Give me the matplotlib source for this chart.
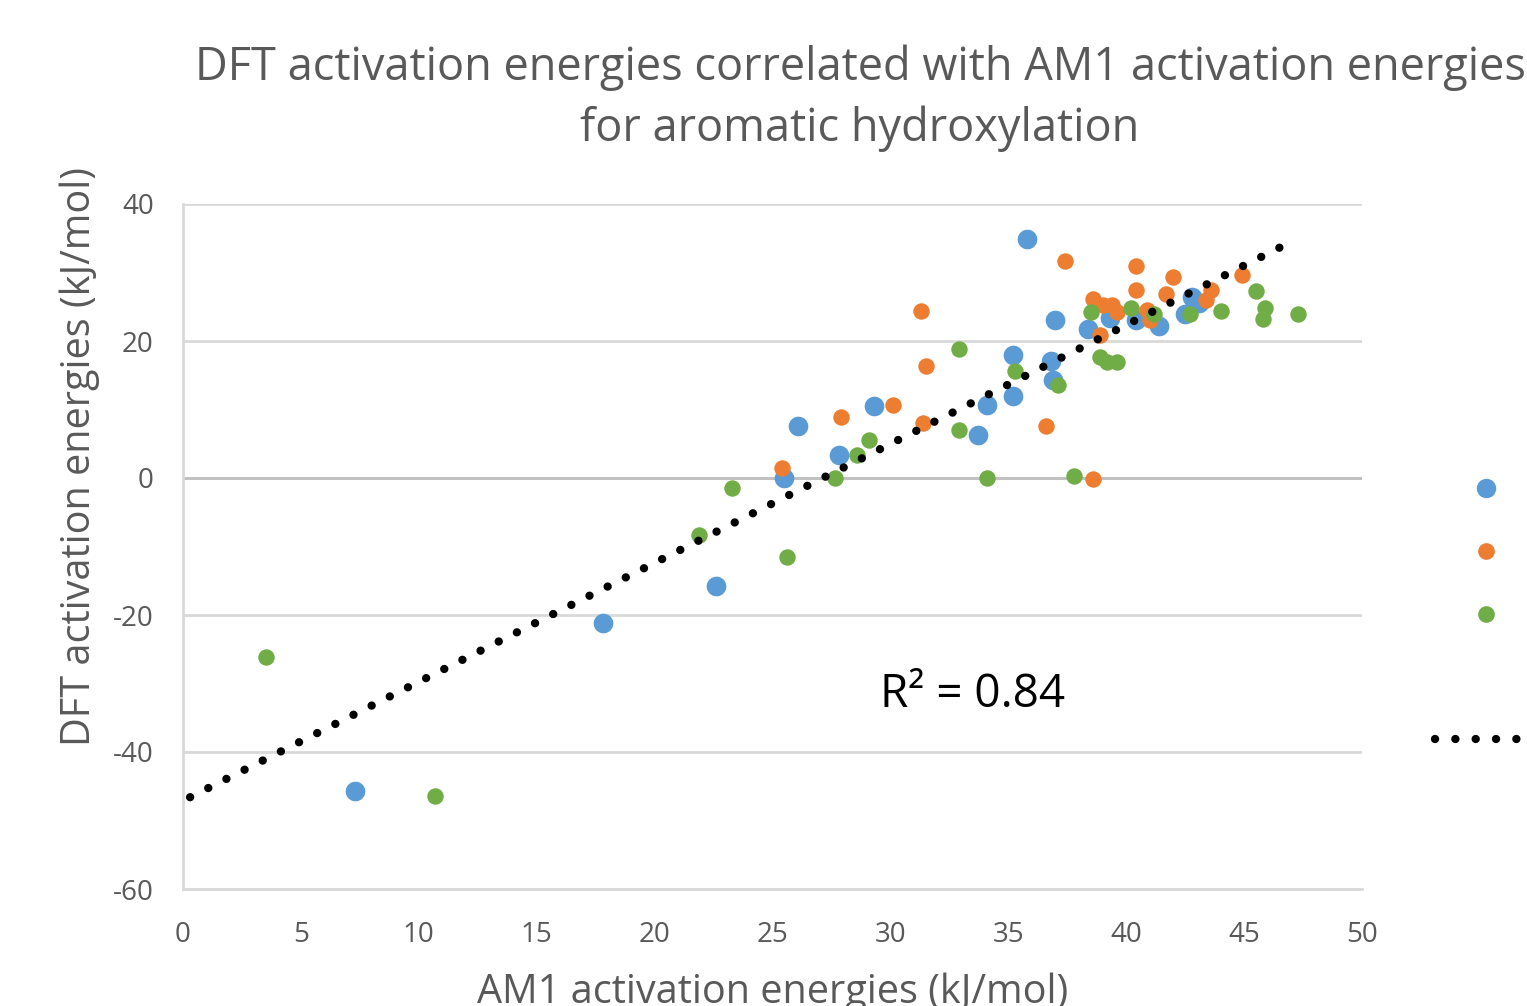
import numpy as np
import matplotlib
matplotlib.use('Agg')
import matplotlib.pyplot as plt
from matplotlib.lines import Line2D

plt.rcParams['font.family'] = ['Open Sans', 'DejaVu Sans']
plt.rcParams['axes.unicode_minus'] = False

# Data (AM1 vs DFT activation energies, kJ/mol)
blue_x = [35.8, 37.0, 35.2, 36.8, 36.9, 35.2, 34.1, 33.7, 29.3, 26.1, 27.8, 25.5,
          22.6, 17.8, 7.3, 38.4, 39.3, 40.4, 41.4, 42.5, 42.8, 43.1]
blue_y = [34.9, 23.1, 18.0, 17.1, 14.3, 12.0, 10.7, 6.3, 10.5, 7.6, 3.4, 0.0,
          -15.8, -21.2, -45.7, 21.8, 23.4, 23.1, 22.2, 24.0, 26.4, 25.6]

orange_x = [37.4, 40.4, 42.0, 40.4, 41.7, 38.6, 39.4, 39.0, 39.6, 40.9, 41.0, 43.6,
            43.4, 44.9, 38.9, 36.6, 38.6, 31.3, 31.5, 27.9, 30.1, 31.4, 25.4]
orange_y = [31.7, 31.0, 29.4, 27.4, 26.9, 26.1, 25.3, 25.2, 24.3, 24.5, 23.1, 27.4,
            26.0, 29.6, 20.9, 7.6, -0.2, 24.4, 16.4, 8.9, 10.7, 8.1, 1.4]

green_x = [38.5, 40.2, 41.2, 42.7, 44.0, 45.5, 45.9, 45.8, 47.3, 38.9, 39.2, 39.6,
           35.3, 37.1, 32.9, 32.9, 29.1, 28.6, 27.65, 34.1, 37.8, 23.3, 21.9, 25.6,
           3.5, 10.7]
green_y = [24.2, 24.8, 23.9, 23.9, 24.4, 27.3, 24.8, 23.2, 23.9, 17.6, 17.0, 16.9,
           15.6, 13.6, 18.9, 7.0, 5.5, 3.3, 0.0, 0.0, 0.3, -1.5, -8.3, -11.5,
           -26.1, -46.4]

# trendline end points as drawn in the reference
trend_x = [0.3, 46.6]
trend_y = [-46.6, 33.8]
r2_text = 'R\u00b2 = 0.84'

xticks = np.arange(0, 51, 5)
yticks = np.arange(-60, 41, 20)

########################################################################################

blue = '#5B9BD5'
orange = '#ED7D31'
green = '#70AD47'
gray_txt = '#595959'
grid_c = '#d9d9d9'
dotted = (0, (0.01, 2.43))

fig = plt.figure(figsize=(15.27, 10.06), dpi=100)
ax = fig.add_axes([183/1527, 1-889/1006, (1362-183)/1527, (889-204)/1006])

ax.scatter(blue_x, blue_y, s=200, c=blue, zorder=3, linewidths=0)
ax.scatter(orange_x, orange_y, s=140, c=orange, zorder=3, linewidths=0)
ax.scatter(green_x, green_y, s=140, c=green, zorder=3, linewidths=0)

ax.plot(trend_x, trend_y, color='black', lw=6, linestyle=dotted,
        dash_capstyle='round', zorder=4)

ax.text(33.5, -31.7, r2_text, fontsize=33, ha='center', va='center', color='black')

ax.set_xlim(0, 50)
ax.set_ylim(-60, 40)
ax.set_xticks(xticks)
ax.set_yticks(yticks)
ax.tick_params(length=0, labelsize=20, colors=gray_txt)
ax.tick_params(axis='x', pad=23)
ax.tick_params(axis='y', pad=21)
ax.yaxis.grid(True, color=grid_c, lw=2)
ax.axhline(0, color='#bfbfbf', lw=2, zorder=1)
for s in ['top', 'right']:
    ax.spines[s].set_visible(False)
for s in ['left', 'bottom']:
    ax.spines[s].set_color(grid_c)
    ax.spines[s].set_linewidth(2)
ax.set_axisbelow(True)

ax.set_xlabel('AM1 activation energies (kJ/mol)', fontsize=28.5, color=gray_txt, labelpad=17)
ax.set_ylabel('DFT activation energies (kJ/mol)', fontsize=28.5, color=gray_txt)
ax.yaxis.set_label_coords(-0.0705, 0.632)
fig.text(860/1527, 1-98/1006,
         'DFT activation energies correlated with AM1 activation energies\nfor aromatic hydroxylation',
         fontsize=32.5, color=gray_txt, ha='center', va='center', linespacing=1.42)

handles = [Line2D([], [], ls='none', marker='o', ms=14, mfc=blue, mec='none'),
           Line2D([], [], ls='none', marker='o', ms=12, mfc=orange, mec='none'),
           Line2D([], [], ls='none', marker='o', ms=12, mfc=green, mec='none'),
           Line2D([], [], ls='none'),
           Line2D([], [], color='black', lw=6, linestyle=dotted, dash_capstyle='round')]
fig.legend(handles, [' '] * 5, loc='upper left', bbox_to_anchor=(1435/1527, 1-480/1006),
           frameon=False, fontsize=16, labelspacing=1.88, handlelength=4.6,
           borderaxespad=0, borderpad=0)

fig.savefig('out.png', dpi=100)
